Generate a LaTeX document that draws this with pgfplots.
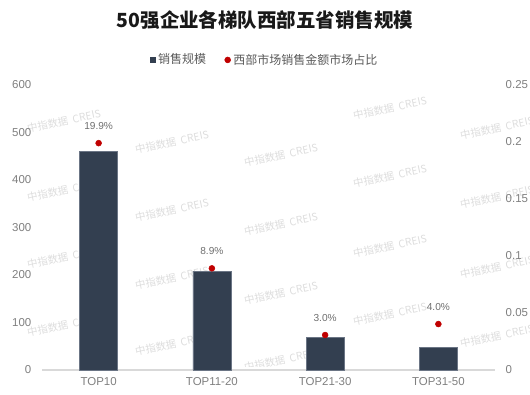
\documentclass[border=0pt]{standalone}
\usepackage{fontspec}
\setmainfont{Liberation Sans}
\newfontfamily\cjk{Noto Sans CJK SC}
\usepackage{pgfplots}
\pgfplotsset{compat=1.18}
\definecolor{barc}{HTML}{333F50}
\definecolor{bard}{HTML}{6B7585}
\definecolor{dotc}{HTML}{C00000}
\definecolor{tickc}{HTML}{7F7F7F}
\definecolor{labc}{HTML}{6E6E6E}
\definecolor{legc}{HTML}{595959}
\definecolor{wmc}{HTML}{DDDDDD}
\definecolor{axc}{HTML}{D9D9D9}
\begin{document}
\begin{tikzpicture}
\useasboundingbox (0pt,0pt) rectangle (397.5pt,295.5pt);
% watermarks
\begin{scope}
\clip (0pt,21pt) rectangle (397.5pt,224.25pt);
\foreach \x/\y in {64/121,64/190,64/257,64/325,172/142,172/210,172/278,172/344,281/155,281/224,281/293,281/360,390/108,390/176,390/246,390/314,497/128,497/197,497/267,497/336}
  \node[rotate=12,text=wmc,inner sep=0pt,font=\cjk\fontsize{7.8}{8}\selectfont] at ({\x*0.75pt},{(394-\y)*0.75pt}) {中指数据\ \ CREIS};
\end{scope}
% title
\node[font=\cjk\bfseries\fontsize{14.6}{16}\selectfont,text=black!90] at (198.75pt,280.5pt) {50强企业各梯队西部五省销售规模};
\begin{axis}[
  at={(31.5pt,18pt)}, anchor=south west, scale only axis,
  width=339.75pt, height=213.75pt,
  xmin=-0.5, xmax=3.5, ymin=0, ymax=600,
  ytick={0,100,200,300,400,500,600},
  xtick={0,1,2,3},
  xticklabels={TOP10,TOP11-20,TOP21-30,TOP31-50},
  axis x line*=bottom, axis y line*=left,
  x axis line style={draw=axc,line width=0.8pt,-},
  y axis line style={draw=none},
  major tick length=0pt,
  tick label style={font=\fontsize{8.6}{9}\selectfont,text=tickc},
  yticklabel style={xshift=-4.5pt},
  xticklabel style={yshift=-2pt},
  /pgf/number format/assume math mode=true,
]
\addplot[ybar, bar width=28.5pt, fill=barc, draw=bard, line width=0.4pt] coordinates {(0,461) (1,208) (2,69) (3,48)};
\end{axis}
\begin{axis}[
  at={(31.5pt,18pt)}, anchor=south west, scale only axis,
  width=339.75pt, height=213.75pt,
  xmin=-0.5, xmax=3.5, ymin=0, ymax=0.25,
  ytick={0,0.05,0.1,0.15,0.2,0.25},
  axis y line*=right, axis x line=none,
  y axis line style={draw=none},
  major tick length=0pt,
  tick label style={font=\fontsize{8.6}{9}\selectfont,text=tickc},
  yticklabel style={xshift=4.5pt,/pgf/number format/fixed,/pgf/number format/precision=2},
  /pgf/number format/assume math mode=true,
  legend style={at={(0.492,1.088)}, anchor=center, draw=none, fill=none,
    legend columns=2, font=\cjk\fontsize{9}{10}\selectfont, text=legc,
    /tikz/every even column/.style={column sep=12pt}},
  legend cell align=left,
]
\addlegendimage{legend image code/.code={\fill[barc] (0pt,-1.9pt) rectangle (3.8pt,1.9pt);}}
\addlegendentry{销售规模}
\addplot[only marks, mark=*, mark size=2.2pt, color=dotc,
  point meta=explicit symbolic,
  nodes near coords,
  nodes near coords style={anchor=center, yshift=12.75pt, text=labc, font=\fontsize{7.6}{9}\selectfont}]
  coordinates {(0,0.199) [19.9\%] (1,0.0892) [8.9\%] (2,0.0307) [3.0\%] (3,0.0403) [4.0\%]};
\addlegendentry{西部市场销售金额市场占比}
\end{axis}
\end{tikzpicture}
\end{document}
